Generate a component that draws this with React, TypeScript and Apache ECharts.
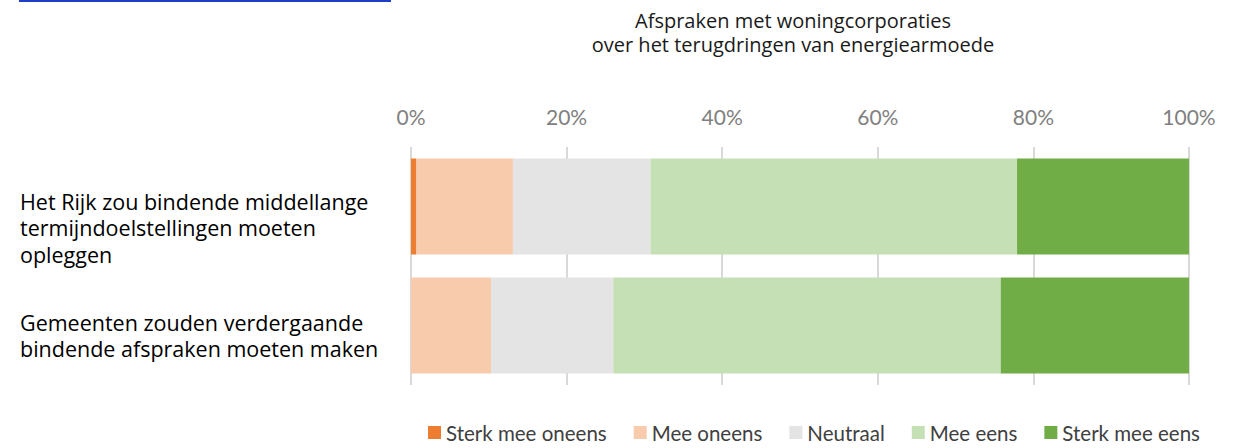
import React, { useEffect, useRef } from "react";
import * as echarts from "echarts";

const categories = [
  "Het Rijk zou bindende middellange\ntermijndoelstellingen moeten\nopleggen",
  "Gemeenten zouden verdergaande\nbindende afspraken moeten maken",
];
const seriesNames = ["Sterk mee oneens", "Mee oneens", "Neutraal", "Mee eens", "Sterk mee eens"];
const sterkMeeOneens = [0.7, 0];
const meeOneens = [12.4, 10.3];
const neutraal = [17.7, 15.7];
const meeEens = [47.1, 49.8];
const sterkMeeEens = [22.1, 24.2];
const colors = ["#ed7d31", "#f8cbad", "#e4e4e4", "#c5e0b4", "#70ad47"];
const titleLines = ["Afspraken met woningcorporaties", "over het terugdringen van energiearmoede"];

// label vertical spacer heights (styling only)
const labelSpacer = [42, 20];

export default function App() {
  const ref = useRef<HTMLDivElement>(null);
  useEffect(() => {
    if (!ref.current) return;
    const chart = echarts.init(ref.current, undefined, { renderer: "svg" });
    const values = [sterkMeeOneens, meeOneens, neutraal, meeEens, sterkMeeEens];
    const base = {
      color: "#000000",
      fontFamily: "Open Sans",
      fontSize: 21.5,
      lineHeight: 26.5,
      align: "left",
    };
    const rich: Record<string, any> = { n: { ...base } };
    labelSpacer.forEach((h, i) => {
      rich["s" + i] = { fontSize: 2, lineHeight: h, color: "#ffffff" };
    });
    chart.setOption({
      animation: false,
      title: {
        text: titleLines.join("\n"),
        left: 793,
        textAlign: "center",
        top: 8,
        padding: 0,
        textStyle: { fontFamily: "Open Sans", fontSize: 20, fontWeight: "normal", color: "#1a1a1a", lineHeight: 24.5 },
      },
      graphic: [
        { type: "rect", shape: { x: 19, y: 0, width: 372, height: 2 }, style: { fill: "#1d3fc4" } },
      ],
      legend: {
        left: 423,
        bottom: 0,
        itemWidth: 13,
        itemHeight: 13,
        itemGap: 27,
        icon: "rect",
        textStyle: { fontFamily: "Lato", fontSize: 20.5, color: "#404040" },
        data: seriesNames,
      },
      grid: { left: 411, right: 48, top: 147, bottom: 63, outerBoundsMode: "none", containLabel: false },
      xAxis: {
        type: "value",
        position: "top",
        min: 0,
        max: 100,
        interval: 20,
        axisLine: { show: false },
        axisTick: { show: false },
        axisLabel: { formatter: "{value}%", color: "#808080", fontFamily: "Lato", fontSize: 21, margin: 20 },
        splitLine: { lineStyle: { color: "#d9d9d9", width: 2 } },
      },
      yAxis: {
        type: "category",
        inverse: true,
        data: categories,
        axisLine: { show: false },
        axisTick: { show: false },
        axisLabel: {
          ...base,
          margin: 391,
          rich,
          formatter: (value: string, index: number) =>
            `{s${index}| }\n` +
            value
              .split("\n")
              .map((line) => `{n|${line}}`)
              .join("\n"),
        },
      },
      series: seriesNames.map((name, i) => ({
        name,
        type: "bar",
        stack: "total",
        barWidth: 96,
        itemStyle: { color: colors[i] },
        data: values[i],
      })),
    });
    return () => chart.dispose();
  }, []);
  return (
    <div
      ref={ref}
      style={{ position: "absolute", left: 0, top: 0, width: 1237, height: 448, background: "#fff" }}
    />
  );
}
